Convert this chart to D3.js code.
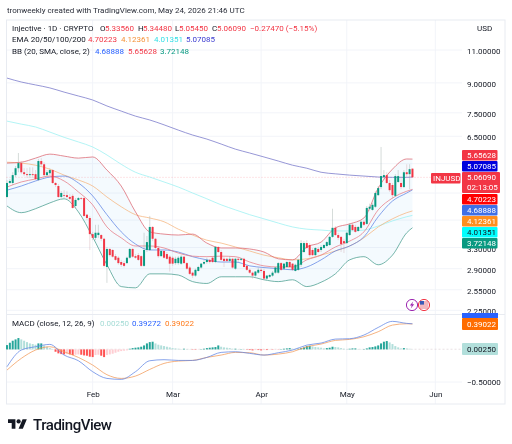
<!DOCTYPE html>
<html>
<head>
<meta charset="utf-8">
<script src="https://cdn.jsdelivr.net/npm/d3@7"></script>
<style>
  html, body { margin: 0; padding: 0; background: #fff; }
  svg { display: block; filter: blur(0.3px); }
  text { font-family: Roboto, "Noto Sans", sans-serif; }
</style>
</head>
<body>
<svg id="chart" width="512" height="444"></svg>
<script>
// daily candles, first one is 2 Jan 2026
const candleOpen = [
  4.49,4.89,4.89,5.13,5.35,5.52,5.22,5.16,5.13,5.16,
  5.16,4.98,5.59,5.48,5.13,5.19,5.29,4.89,4.80,4.49,
  4.54,4.54,4.49,4.52,4.25,4.41,4.46,4.46,4.03,3.95,
  3.58,3.50,3.56,3.56,3.48,2.93,3.27,3.25,3.13,3.10,
  3.02,3.00,3.00,3.10,3.27,3.13,3.15,3.13,2.95,3.25,
  3.25,3.74,3.48,3.29,3.13,3.23,3.17,3.12,3.10,3.00,
  3.00,2.99,3.12,3.00,2.92,2.83,2.78,2.86,2.92,2.99,
  3.02,3.06,3.10,3.02,3.31,3.21,3.08,3.08,3.04,3.08,
  2.90,3.08,3.06,3.08,2.95,2.88,2.83,2.78,2.83,2.88,
  2.86,2.73,2.76,2.78,2.83,2.83,3.00,2.90,2.93,3.02,
  2.99,2.86,2.88,2.97,3.21,3.39,3.35,3.25,3.15,3.27,
  3.25,3.29,3.33,3.35,3.52,3.72,3.56,3.52,3.43,3.39,
  3.56,3.79,3.74,3.65,3.72,3.86,3.81,4.18,4.15,4.23,
  4.54,4.77,5.07,5.13,4.89,4.83,4.52,4.92,4.89,4.77,
  5.22,5.16,5.3356];
const candleClose = [
  4.89,4.95,5.13,5.35,5.52,5.22,5.16,5.13,5.16,5.13,
  5.01,5.59,5.48,5.13,5.22,5.29,4.89,4.83,4.49,4.60,
  4.52,4.49,4.44,4.20,4.41,4.46,4.44,4.00,3.95,3.58,
  3.50,3.61,3.61,3.48,2.95,3.27,3.15,3.12,3.06,3.00,
  2.97,2.95,3.10,3.27,3.12,3.10,3.06,2.95,3.25,3.41,
  3.74,3.48,3.29,3.13,3.23,3.10,3.08,2.99,2.99,3.08,
  3.10,3.12,3.00,2.90,2.81,2.78,2.88,2.93,2.99,3.02,
  3.06,3.02,3.02,3.31,3.21,3.06,3.04,3.04,3.08,2.92,
  3.08,3.06,3.08,2.93,2.88,2.83,2.78,2.85,2.88,2.86,
  2.73,2.78,2.79,2.83,2.92,3.00,2.88,2.99,3.02,2.93,
  2.88,2.97,3.06,3.39,3.39,3.29,3.15,3.15,3.29,3.21,
  3.31,3.35,3.41,3.52,3.72,3.56,3.50,3.37,3.39,3.61,
  3.79,3.67,3.63,3.74,3.86,3.79,4.20,4.23,4.28,4.60,
  4.74,5.10,5.13,4.89,4.68,4.54,5.10,5.10,4.77,5.22,
  5.16,5.32,5.0609];
const candleHigh = [
  4.98,5.01,5.22,5.42,5.87,5.59,5.35,5.35,5.38,5.38,
  5.29,5.66,5.69,5.55,5.29,5.35,5.32,4.92,4.86,4.65,
  4.68,4.65,4.57,4.57,4.46,4.49,4.49,4.49,4.05,4.00,
  3.63,3.79,3.79,3.58,3.50,3.31,3.29,3.27,3.17,3.13,
  3.06,3.04,3.12,3.29,3.29,3.17,3.19,3.15,3.61,3.54,
  4.00,3.76,3.50,3.33,3.25,3.25,3.21,3.15,3.13,3.12,
  3.13,3.15,3.13,3.02,2.95,2.85,2.90,2.95,3.00,3.06,
  3.10,3.08,3.12,3.33,3.33,3.25,3.12,3.10,3.12,3.10,
  3.10,3.10,3.10,3.10,2.97,2.90,2.85,2.86,2.92,2.92,
  2.90,2.79,2.81,2.86,2.93,3.02,3.02,3.00,3.04,3.04,
  3.00,2.99,3.08,3.45,3.43,3.45,3.39,3.29,3.31,3.31,
  3.35,3.37,3.43,3.54,4.18,3.76,3.61,3.54,3.48,3.63,
  3.83,3.83,3.79,3.76,3.90,3.90,4.25,4.31,4.33,4.65,
  4.80,6.09,5.29,5.22,4.98,4.89,5.16,5.29,5.10,5.29,
  5.48,5.48,5.3448];
const candleLow = [
  4.46,4.86,4.83,5.07,5.22,5.16,5.10,5.04,5.04,5.04,
  4.98,4.95,5.42,5.07,5.10,5.13,4.86,4.77,4.46,4.46,
  4.46,4.44,4.41,4.18,4.20,4.38,4.41,3.98,3.90,3.25,
  3.45,3.45,3.50,3.43,2.92,2.66,3.12,3.10,3.04,2.97,
  2.93,2.92,2.99,3.08,3.10,3.08,3.04,2.93,2.93,3.21,
  3.23,3.43,3.27,3.10,3.12,3.08,3.06,2.85,2.95,2.97,
  2.97,2.97,2.99,2.88,2.79,2.74,2.76,2.85,2.90,2.97,
  2.99,2.99,3.00,3.00,3.19,3.04,2.93,3.02,3.02,2.90,
  2.88,3.02,3.04,2.92,2.86,2.81,2.73,2.76,2.81,2.83,
  2.71,2.71,2.74,2.76,2.81,2.81,2.86,2.88,2.92,2.92,
  2.86,2.85,2.86,2.93,3.19,3.27,3.12,3.13,3.13,3.19,
  3.21,3.27,3.31,3.33,3.50,3.54,3.45,3.21,3.19,3.37,
  3.54,3.65,3.61,3.63,3.69,3.76,3.79,4.13,4.13,4.20,
  4.52,4.71,4.98,4.86,4.63,4.44,4.49,4.89,4.71,4.74,
  5.07,4.71,5.0545];

const lineDays = [0,5,10,15,20,25,30,35,40,45,50,55,60,65,70,75,80,85,90,95,100,105,110,115,120,125,130,135,140,142];
const bbUpper = [5.52,5.55,5.69,5.83,5.76,5.69,5.73,5.29,4.80,4.10,3.63,3.58,3.56,3.58,3.39,3.29,3.29,3.27,3.21,3.08,3.06,3.31,3.41,3.72,3.81,3.95,4.74,5.32,5.66,5.65628];
const bbLower = [4.25,4.08,4.18,4.33,4.44,4.10,3.52,2.97,2.60,2.58,2.81,2.81,2.79,2.68,2.65,2.76,2.76,2.76,2.71,2.68,2.71,2.60,2.67,2.81,3.06,3.12,2.97,3.15,3.61,3.72148];
const bbBasis = [4.68,4.80,4.95,5.07,5.10,4.89,4.52,4.03,3.63,3.37,3.25,3.25,3.21,3.12,3.06,3.02,3.02,2.95,2.92,2.90,2.88,2.93,3.06,3.23,3.33,3.52,3.98,4.38,4.60,4.68888];
const ema20 = [4.77,4.92,5.01,5.10,4.95,4.63,4.28,3.74,3.50,3.33,3.33,3.29,3.19,3.13,3.12,3.13,3.12,3.02,2.95,2.93,2.93,3.06,3.15,3.31,3.43,3.63,4.15,4.46,4.65,4.70223];
const ema50 = [5.55,5.52,5.45,5.32,5.13,4.98,4.80,4.49,4.23,4.03,3.95,3.86,3.69,3.56,3.45,3.39,3.31,3.23,3.15,3.10,3.06,3.08,3.15,3.23,3.33,3.50,3.74,3.93,4.08,4.12361];
const ema100 = [7.13,7.00,6.88,6.67,6.46,6.28,6.09,5.80,5.48,5.22,5.07,4.92,4.77,4.60,4.44,4.28,4.15,4.03,3.93,3.83,3.74,3.69,3.67,3.65,3.65,3.67,3.76,3.88,3.98,4.01351];
const ema200 = [9.27,9.05,8.89,8.73,8.51,8.31,8.11,7.82,7.58,7.35,7.18,6.97,6.75,6.55,6.39,6.20,6.01,5.87,5.73,5.59,5.45,5.35,5.22,5.17,5.13,5.10,5.07,5.06,5.06,5.07085];

const macdLine = [-.266,-.010,.041,.077,-.087,-.174,-.342,-.445,-.460,-.342,-.174,-.158,-.169,-.169,-.123,-.046,-.036,-.061,-.087,-.051,-.010,.066,.097,.158,.164,.220,.337,.430,.399,.39272];
const macdSignal = [-.317,-.138,-.010,.041,-.036,-.123,-.240,-.388,-.445,-.409,-.307,-.215,-.179,-.169,-.123,-.087,-.046,-.051,-.087,-.072,-.036,.041,.082,.138,.153,.194,.271,.373,.393,.39022];
const macdHist = [
  .066,.102,.133,.153,.174,.153,.133,.112,.092,.082,
  .072,.092,.092,.061,.041,.020,.005,-.036,-.061,-.072,
  -.077,-.072,-.077,-.087,-.082,-.077,-.082,-.092,-.097,-.112,
  -.118,-.087,-.082,-.097,-.118,-.087,-.077,-.066,-.051,-.036,
  -.026,-.020,-.015,.010,.020,.026,.031,.041,.061,.092,
  .112,.118,.092,.072,.061,.051,.041,.031,.020,.015,
  .010,.005,.010,.005,.003,-.005,-.005,-.003,.005,.010,
  .020,.026,.031,.036,.061,.041,.031,.026,.020,.010,
  .010,.005,.005,.003,-.005,-.010,-.015,-.010,-.010,-.015,
  -.010,-.010,-.005,-.005,-.003,-.003,.005,.010,.015,.020,
  .010,.005,.010,.020,.031,.051,.056,.046,.036,.031,
  .026,.015,.020,.026,.041,.036,.031,.020,.010,.005,
  .010,.015,.015,.005,.003,.005,.015,.031,.036,.046,
  .061,.092,.118,.128,.107,.082,.051,.031,.015,.020,
  .015,.010,.0025];

const priceTicks = [11,9,7.5,6.5,3.3,2.9,2.55,2.25];
const priceGridOnly = [5.5,4.6,3.9];
const macdTicks = [-0.5];

// labels stacked on the price scale, top to bottom
const tagLabels = ["5.65628","5.07085","5.06090","4.70223","4.68888","4.12361","4.01351","3.72148"];
const tagColors = ["#f23645","#0000dd","#f23645","#ff0000","#3f6fe6","#ff8f1f","#00ffff","#089981"];
const tagTextColors = ["#fff","#fff","#fff","#fff","#fff","#fff","#131722","#fff"];

const green = "#089981", red = "#f23645";
const gridColor = "#f2f4f9", frameColor = "#e8ebf1", textColor = "#131722";
const plotLeft = 6.5, plotRight = 462, frameRight = 505, frameTop = 20, frameBottom = 404;
const mainBottom = 314.5;

const svg = d3.select("#chart");
const firstDay = Date.UTC(2026, 0, 2), dayMs = 864e5;
const dayDate = i => new Date(firstDay + i * dayMs);

const x = d3.scaleUtc()
  .domain([dayDate(0), new Date(Date.UTC(2026, 5, 1))])
  .range([7, 435.3]);
const y = d3.scaleLog().domain([11, 2.25]).range([50, 310.3]);
const yMacd = d3.scaleLinear().domain([0.5, -0.5]).range([316.8, 382]);

// frame and grid
const grid = svg.append("g").attr("stroke", gridColor).attr("stroke-width", 1);
grid.selectAll(".gy").data(priceTicks.concat(priceGridOnly)).enter().append("line")
  .attr("x1", plotLeft).attr("x2", plotRight)
  .attr("y1", d => y(d)).attr("y2", d => y(d));
grid.selectAll(".gm").data(macdTicks).enter().append("line")
  .attr("x1", plotLeft).attr("x2", plotRight)
  .attr("y1", d => yMacd(d)).attr("y2", d => yMacd(d));
const months = d3.utcMonth.range(new Date(Date.UTC(2026, 1, 1)), new Date(Date.UTC(2026, 5, 2)));
grid.selectAll(".gx").data(months).enter().append("line")
  .attr("x1", d => x(d)).attr("x2", d => x(d))
  .attr("y1", frameTop).attr("y2", frameBottom);
svg.append("rect")
  .attr("x", plotLeft).attr("y", frameTop)
  .attr("width", frameRight - plotLeft).attr("height", frameBottom - frameTop)
  .attr("fill", "none").attr("stroke", frameColor);
svg.append("line")
  .attr("x1", plotLeft).attr("x2", frameRight).attr("y1", mainBottom).attr("y2", mainBottom)
  .attr("stroke", frameColor);

// bollinger fill
const dayX = i => x(dayDate(i));
svg.append("path")
  .datum(lineDays.map((d, i) => i))
  .attr("fill", "#2196f3").attr("fill-opacity", 0.05)
  .attr("d", d3.area()
    .x(i => dayX(lineDays[i]))
    .y0(i => y(bbLower[i]))
    .y1(i => y(bbUpper[i]))
    .curve(d3.curveMonotoneX));

// current price line
svg.append("line")
  .attr("x1", plotLeft).attr("x2", 431)
  .attr("y1", y(5.0609)).attr("y2", y(5.0609))
  .attr("stroke", red).attr("stroke-opacity", 0.45).attr("stroke-width", 0.6)
  .attr("stroke-dasharray", "1 2");

const priceLine = d3.line()
  .x((d, i) => dayX(lineDays[i]))
  .y(d => y(d))
  .curve(d3.curveMonotoneX);
const overlays = [
  [ema200, "#7474c8"], [ema100, "#9af0f2"], [ema50, "#f6b47c"], [bbBasis, "#5f84e4"],
  [ema20, "#e67a84"], [bbUpper, "#dc6670"], [bbLower, "#479c8e"]
];
overlays.forEach(o => {
  svg.append("path").datum(o[0])
    .attr("fill", "none").attr("stroke", o[1]).attr("stroke-width", 0.75)
    .attr("d", priceLine);
});

// candles
const candles = svg.append("g").selectAll("g")
  .data(candleOpen.map((d, i) => i)).enter().append("g");
candles.append("line")
  .attr("x1", i => dayX(i)).attr("x2", i => dayX(i))
  .attr("y1", i => y(candleHigh[i])).attr("y2", i => y(candleLow[i]))
  .attr("stroke", i => candleClose[i] >= candleOpen[i] ? "#8a9a96" : "#c89aa0")
  .attr("stroke-width", 0.5).attr("stroke-opacity", 0.7);
candles.append("rect")
  .attr("x", i => dayX(i) - 1)
  .attr("width", 2)
  .attr("y", i => y(Math.max(candleOpen[i], candleClose[i])))
  .attr("height", i => Math.max(0.6, Math.abs(y(candleOpen[i]) - y(candleClose[i]))))
  .attr("fill", i => candleClose[i] >= candleOpen[i] ? green : red);

// macd pane
svg.append("line")
  .attr("x1", plotLeft).attr("x2", plotRight)
  .attr("y1", yMacd(0.0025)).attr("y2", yMacd(0.0025))
  .attr("stroke", "#dccfd2").attr("stroke-width", 0.6).attr("stroke-dasharray", "2 2");
svg.append("g").selectAll("rect").data(macdHist).enter().append("rect")
  .attr("x", (d, i) => dayX(i) - 1)
  .attr("width", 2)
  .attr("y", d => yMacd(Math.max(d, 0)))
  .attr("height", d => Math.abs(yMacd(d) - yMacd(0)))
  .attr("fill", (d, i) => {
    const prev = i ? macdHist[i - 1] : 0;
    if (d >= 0) return d >= prev ? "#26a69a" : "#b2dfdb";
    return d <= prev ? "#ff5252" : "#ffcdd2";
  });
const macdPath = d3.line()
  .x((d, i) => dayX(lineDays[i]))
  .y(d => yMacd(d))
  .curve(d3.curveMonotoneX);
svg.append("path").datum(macdSignal)
  .attr("fill", "none").attr("stroke", "#f29a58").attr("stroke-width", 0.75).attr("d", macdPath);
svg.append("path").datum(macdLine)
  .attr("fill", "none").attr("stroke", "#5f84e4").attr("stroke-width", 0.75).attr("d", macdPath);

// axes
const priceAxis = d3.axisRight(y).tickValues(priceTicks)
  .tickSize(0).tickPadding(5).tickFormat(d3.format(".5f"));
const macdAxis = d3.axisRight(yMacd).tickValues(macdTicks)
  .tickSize(0).tickPadding(5).tickFormat(d3.format(".5f"));
const timeAxis = d3.axisBottom(x).tickValues(months)
  .tickSize(0).tickPadding(0).tickFormat(d3.utcFormat("%b"));
[[priceAxis, "translate(" + plotRight + ",1)"],
 [macdAxis, "translate(" + plotRight + ",0)"],
 [timeAxis, "translate(0,391)"]].forEach(a => {
  const g = svg.append("g").attr("transform", a[1]).call(a[0]);
  g.select(".domain").remove();
  g.selectAll("text").attr("font-size", 8).attr("fill", textColor)
    .attr("font-family", "Roboto, 'Noto Sans', sans-serif");
});

// small helper for header and legend lines
function label(xPos, yPos, txt, color, size) {
  return svg.append("text").attr("x", xPos).attr("y", yPos)
    .attr("fill", color || textColor).attr("font-size", size || 8).text(txt);
}
label(7, 13, "tronweekly created with TradingView.com, May 24, 2026 21:46 UTC", "#2a2e39", 8);
label(12, 31, "Injective · 1D · CRYPTO");
label(100, 31, "O", textColor); label(105, 31, "5.33560", red);
label(138, 31, "H", textColor); label(143, 31, "5.34480", red);
label(175, 31, "L", textColor); label(179, 31, "5.05450", red);
label(212, 31, "C", textColor); label(217, 31, "5.06090", red);
label(250, 31, "−0.27470 (−5.15%)", red);
label(12, 42, "EMA 20/50/100/200");
label(88, 42, "4.70223", red); label(121, 42, "4.12361", "#f5933a");
label(154, 42, "4.01351", "#35dfe6"); label(186, 42, "5.07085", "#3a3ad0");
label(12, 54, "BB (20, SMA, close, 2)");
label(95, 54, "4.68888", "#2962ff"); label(128, 54, "5.65628", red); label(160, 54, "3.72148", green);
label(12, 326, "MACD (close, 12, 26, 9)");
label(100, 326, "0.00250", "#a5dcd6"); label(132, 326, "0.39272", "#2962ff"); label(165, 326, "0.39022", "#ff7a1a");
label(477, 31, "USD");

// tags on the scale, one slot each, the live price takes two
const tagLeft = 462, tagStep = 11;
let tagY = 150;
tagLabels.forEach((t, i) => {
  const isLive = i == 2;
  const h = isLive ? tagStep * 2 - 1 : tagStep - 0.5;
  svg.append("rect").attr("x", tagLeft).attr("y", tagY)
    .attr("width", isLive ? 38 : 35.5).attr("height", h).attr("rx", 1)
    .attr("fill", tagColors[i]);
  label(tagLeft + 5, tagY + 8.3, t, tagTextColors[i]);
  if (isLive) label(tagLeft + 5, tagY + 18.3, "02:13:05", "#fff");
  tagY += isLive ? tagStep * 2 : tagStep;
});
svg.append("rect").attr("x", 431).attr("y", 173).attr("width", 29.5).attr("height", 10.5).attr("rx", 1).attr("fill", red);
label(433, 181.3, "INJUSD", "#fff");

// macd scale tags, the blue one peeks out from under the orange one
svg.append("rect").attr("x", 462).attr("y", 313).attr("width", 36).attr("height", 5).attr("fill", "#2962ff");
svg.append("rect").attr("x", 462).attr("y", 318).attr("width", 36).attr("height", 12).attr("rx", 1).attr("fill", "#ff6d00");
label(467, 327, "0.39022", "#fff");
svg.append("rect").attr("x", 462).attr("y", 343).attr("width", 36).attr("height", 12).attr("rx", 1).attr("fill", "#b2dfdb");
label(467, 352, "0.00250", textColor);

// event icons near the bottom of the price pane
const bolt = svg.append("g").attr("transform", "translate(412,305)");
bolt.append("circle").attr("r", 5.6).attr("fill", "#fff").attr("stroke", "#9c27b0").attr("stroke-width", 1);
bolt.append("path").attr("d", "M1.2,-3.6 L-2.2,0.6 L-0.2,0.6 L-1.2,3.6 L2.2,-0.8 L0.2,-0.8 Z").attr("fill", "#9c27b0");
const flag = svg.append("g").attr("transform", "translate(424,305)");
flag.append("circle").attr("r", 5.6).attr("fill", "#fff").attr("stroke", "#f23645").attr("stroke-width", 1);
[-3, -1, 1, 3].forEach(d => {
  flag.append("rect").attr("x", -4.4).attr("y", d - 0.5).attr("width", 8.8).attr("height", 1).attr("fill", "#e57080");
});
flag.append("rect").attr("x", -4).attr("y", -4).attr("width", 4).attr("height", 3.6).attr("fill", "#3a5bb8");

// logo
const logo = svg.append("g").attr("transform", "translate(8,417.2) scale(0.53)").attr("fill", "#131722");
logo.append("path").attr("d", "M14 22H7V11H0V4h14v18zM28 22h-8l7.5-18h8L28 22z");
logo.append("circle").attr("cx", 20).attr("cy", 8).attr("r", 4);
label(33, 429.5, "TradingView", "#131722", 15).attr("font-weight", 500).attr("textLength", 79);
</script>
</body>
</html>
